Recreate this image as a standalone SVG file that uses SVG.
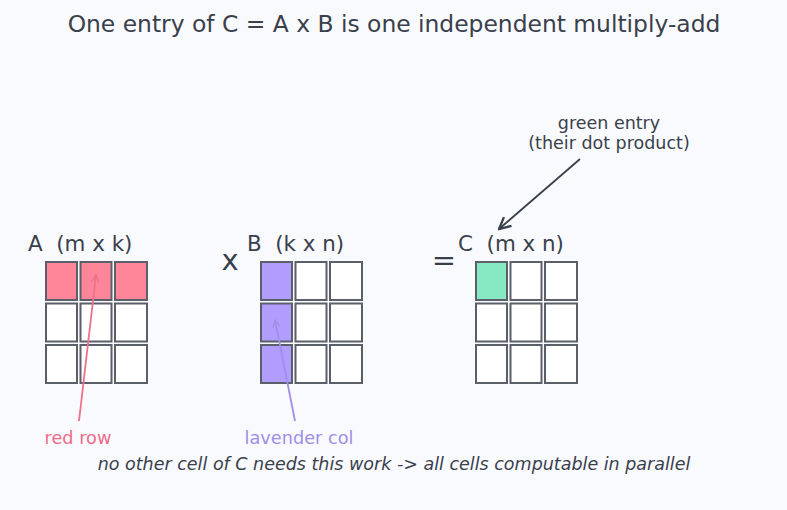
<svg xmlns="http://www.w3.org/2000/svg" width="787" height="510" viewBox="0 0 787 510">
<defs>
<style>
text{font-family:"DejaVu Sans","Liberation Sans",sans-serif;fill:#3a3f4c;white-space:pre}
.cell{fill:#ffffff;stroke:#5b5f6a;stroke-width:2}
.r{fill:#ff8599}
.l{fill:#b09dfd}
.g{fill:#86e9c4}
.lbl{font-size:21.4px}
</style>
<marker id="ad" viewBox="0 0 10 10" refX="9" refY="5" markerWidth="8" markerHeight="8" orient="auto"><path d="M1,1 L9,5 L1,9" fill="none" stroke="#3a3f4c" stroke-width="1.6"/></marker>
<marker id="ar" viewBox="0 0 10 10" refX="9" refY="5" markerWidth="5" markerHeight="5" orient="auto"><path d="M1,1 L9,5 L1,9" fill="none" stroke="#f07088" stroke-width="1.5"/></marker>
<marker id="al" viewBox="0 0 10 10" refX="9" refY="5" markerWidth="5" markerHeight="5" orient="auto"><path d="M1,1 L9,5 L1,9" fill="none" stroke="#a08ee8" stroke-width="1.5"/></marker>
</defs>
<rect width="787" height="510" fill="#f9fafd"/>
<text x="394" y="32" font-size="23.4" text-anchor="middle">One entry of C = A x B is one independent multiply-add</text>

<g id="matA">
<text x="28" y="251" class="lbl" xml:space="preserve">A  (m x k)</text>
<rect class="cell r" x="46" y="262" width="31" height="38"/>
<rect class="cell r" x="80.5" y="262" width="31" height="38"/>
<rect class="cell r" x="115" y="262" width="32" height="38"/>
<rect class="cell" x="46" y="303.5" width="31" height="38"/>
<rect class="cell" x="80.5" y="303.5" width="31" height="38"/>
<rect class="cell" x="115" y="303.5" width="32" height="38"/>
<rect class="cell" x="46" y="345" width="31" height="38"/>
<rect class="cell" x="80.5" y="345" width="31" height="38"/>
<rect class="cell" x="115" y="345" width="32" height="38"/>
</g>

<g id="times"><text x="230" y="270" font-size="29" text-anchor="middle">x</text></g>

<g id="matB">
<text x="247" y="251" class="lbl" xml:space="preserve">B  (k x n)</text>
<rect class="cell l" x="261" y="262" width="31" height="38"/>
<rect class="cell" x="295.5" y="262" width="31" height="38"/>
<rect class="cell" x="330" y="262" width="32" height="38"/>
<rect class="cell l" x="261" y="303.5" width="31" height="38"/>
<rect class="cell" x="295.5" y="303.5" width="31" height="38"/>
<rect class="cell" x="330" y="303.5" width="32" height="38"/>
<rect class="cell l" x="261" y="345" width="31" height="38"/>
<rect class="cell" x="295.5" y="345" width="31" height="38"/>
<rect class="cell" x="330" y="345" width="32" height="38"/>
</g>

<g id="equals"><text x="444" y="270" font-size="29" text-anchor="middle">=</text></g>

<g id="matC">
<text x="458" y="251" class="lbl" xml:space="preserve">C  (m x n)</text>
<rect class="cell g" x="476" y="262" width="31" height="38"/>
<rect class="cell" x="510.5" y="262" width="31" height="38"/>
<rect class="cell" x="545" y="262" width="32" height="38"/>
<rect class="cell" x="476" y="303.5" width="31" height="38"/>
<rect class="cell" x="510.5" y="303.5" width="31" height="38"/>
<rect class="cell" x="545" y="303.5" width="32" height="38"/>
<rect class="cell" x="476" y="345" width="31" height="38"/>
<rect class="cell" x="510.5" y="345" width="31" height="38"/>
<rect class="cell" x="545" y="345" width="32" height="38"/>
</g>

<g id="note-green">
<text x="609" y="129" font-size="17.5" text-anchor="middle">green entry</text>
<text x="609" y="149" font-size="17.5" text-anchor="middle">(their dot product)</text>
</g>
<g id="note-red"><text x="78" y="444" font-size="17.7" text-anchor="middle" style="fill:#f06a88">red row</text></g>
<g id="note-lav"><text x="299" y="444" font-size="17.7" text-anchor="middle" style="fill:#a08ee8">lavender col</text></g>

<g id="connectors" fill="none" stroke-width="1.8">
<line x1="580" y1="159" x2="499" y2="229" stroke="#3a3f4c" marker-end="url(#ad)"/>
<line x1="79" y1="421" x2="96" y2="275" stroke="#f07088" marker-end="url(#ar)"/>
<line x1="295" y1="421" x2="275" y2="320" stroke="#a08ee8" marker-end="url(#al)"/>
</g>

<text x="394" y="470" font-size="17.5" font-style="italic" text-anchor="middle">no other cell of C needs this work -&gt; all cells computable in parallel</text>
</svg>
